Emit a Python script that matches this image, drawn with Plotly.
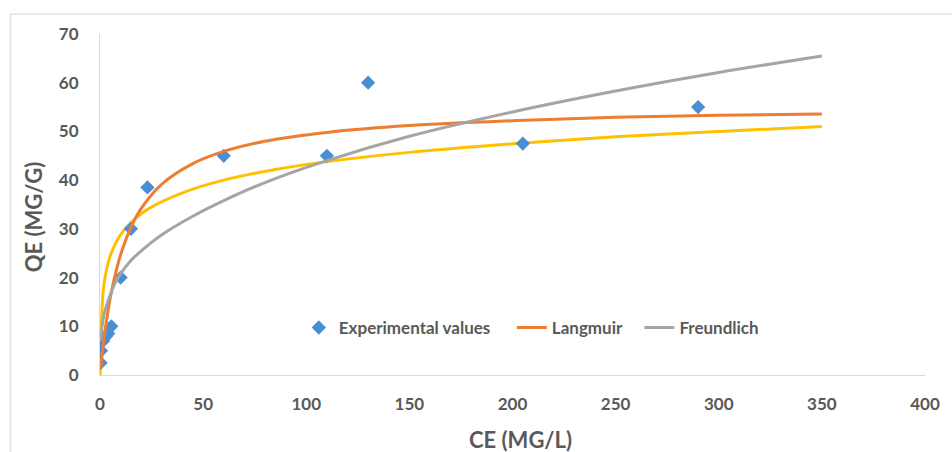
import plotly.graph_objects as go

# Experimental equilibrium data
ce_exp = [0.3, 0.5, 1.5, 3, 4, 5.5, 10, 15, 23, 60, 110, 130, 205, 290]
qe_exp = [2.5, 5, 7, 8, 8.5, 10, 20, 30, 38.5, 45, 45, 60, 47.5, 55]

# Langmuir model curve
ce_lang = [0.3, 1, 2, 3, 5, 7.5, 10, 15, 20, 30, 45, 60, 80, 110, 150, 200, 250, 300, 350]
qe_lang = [1.3, 4.1, 7.7, 10.7, 15.9, 20.8, 24.7, 30.3, 34.2, 39.2, 43.4, 45.9, 48.0, 49.8, 51.2, 52.2, 52.9, 53.3, 53.6]

# Freundlich model curve
ce_freu = [0.3, 1, 2, 3, 5, 7.5, 10, 15, 20, 30, 45, 60, 80, 110, 150, 200, 250, 300, 350]
qe_freu = [7.0, 10.0, 12.5, 14.0, 16.5, 19.0, 20.8, 23.5, 25.5, 28.8, 32.6, 35.8, 39.5, 44.0, 49.0, 54.0, 58.3, 62.1, 65.5]

# Temkin model curve
ce_temk = [0.1, 1.5, 3, 5.5, 10, 15, 23, 40, 60, 85, 110, 150, 205, 250, 290, 350]
qe_temk = [0.0, 17.0, 21.3, 25.1, 28.8, 31.3, 34.0, 37.4, 40.0, 42.2, 43.8, 45.7, 47.6, 48.9, 49.8, 51.0]

x_ticks = [0, 50, 100, 150, 200, 250, 300, 350, 400]
y_ticks = [0, 10, 20, 30, 40, 50, 60, 70]

FONT = "Lato"
GREY_TEXT = "#595959"
NBSP = "\u00a0"

fig = go.Figure()

fig.add_trace(go.Scatter(
    x=ce_temk, y=qe_temk, mode="lines", name="Temkin", showlegend=False,
    line=dict(color="#FFC000", width=3, shape="spline"),
))
fig.add_trace(go.Scatter(
    x=ce_exp, y=qe_exp, mode="markers", name="Experimental values" + NBSP * 4,
    marker=dict(symbol="diamond", size=11, color="#4A8FD3"),
))
fig.add_trace(go.Scatter(
    x=ce_lang, y=qe_lang, mode="lines", name="Langmuir" + NBSP * 3,
    line=dict(color="#ED7D31", width=3, shape="spline"),
))
fig.add_trace(go.Scatter(
    x=ce_freu, y=qe_freu, mode="lines", name="Freundlich",
    line=dict(color="#A5A5A5", width=3, shape="spline"),
))

fig.update_xaxes(
    range=[0, 400], tickvals=x_ticks, ticktext=[str(v) for v in x_ticks],
    showgrid=False, zeroline=False, showline=True, linecolor="#D9D9D9", linewidth=1,
    ticks="", ticklabelstandoff=14,
    tickfont=dict(family=FONT, size=17, color=GREY_TEXT, weight="bold"),
)
fig.update_yaxes(
    range=[0, 70], tickvals=y_ticks, ticktext=[str(v) for v in y_ticks],
    showgrid=False, zeroline=False, showline=True, linecolor="#D9D9D9", linewidth=1,
    ticks="", ticklabelstandoff=17,
    tickfont=dict(family=FONT, size=17, color=GREY_TEXT, weight="bold"),
)

fig.add_annotation(
    text="CE (MG/L)", xref="paper", yref="paper", x=0.51, y=-0.19,
    xanchor="center", yanchor="middle", showarrow=False,
    font=dict(family=FONT, size=22, color=GREY_TEXT, weight="bold"),
)
fig.add_annotation(
    text="QE (MG/G)", xref="paper", yref="paper", x=-0.081, y=0.463,
    xanchor="center", yanchor="middle", showarrow=False, textangle=-90,
    font=dict(family=FONT, size=22, color=GREY_TEXT, weight="bold"),
)

# Chart area frame
fig.add_shape(
    type="rect", xref="paper", yref="paper",
    x0=-0.1084, x1=1.05, y0=-0.25, y1=1.0587,
    line=dict(color="#E3E3E3", width=1.5), layer="below",
)

fig.update_layout(
    width=952, height=452,
    margin=dict(l=100, r=22, t=34, b=77),
    paper_bgcolor="white", plot_bgcolor="white",
    legend=dict(
        orientation="h", x=0.241, y=0.138, xanchor="left", yanchor="middle",
        bgcolor="rgba(0,0,0,0)",
        font=dict(family=FONT, size=17, color=GREY_TEXT, weight="bold"),
    ),
)

fig.write_html("out.html")
